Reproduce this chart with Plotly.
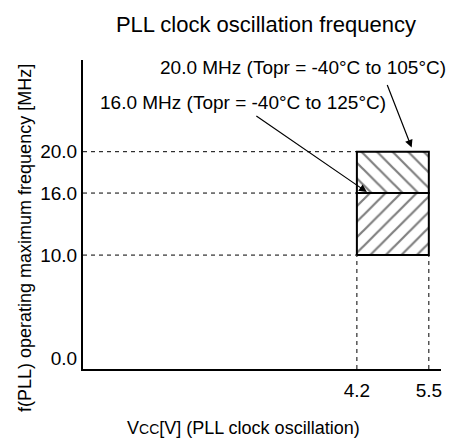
import plotly.graph_objects as go

# chart text
title_text = "PLL clock oscillation frequency"
x_title = "V<span style='font-size:14px'>CC</span>[V] (PLL clock oscillation)"
y_title = "f(PLL) operating maximum frequency [MHz]"
note_labels = ["20.0 MHz (Topr = -40°C to 105°C)", "16.0 MHz (Topr = -40°C to 125°C)"]

# data
y_ticks = [0.0, 10.0, 16.0, 20.0]
y_tick_text = ["0.0", "10.0", "16.0", "20.0"]
x_ticks = [4.2, 5.5]
x_tick_text = ["4.2", "5.5"]
vcc_lo, vcc_hi = 4.2, 5.5
f_low, f_mid, f_high = 10.0, 16.0, 20.0

# schematic axis ranges
x_range = [-0.75, 5.72]
y_range = [-1.02, 28.87]

FONT = "Liberation Sans, Arial, sans-serif"
dash_style = dict(color="black", width=1, dash="4px,4px")

fig = go.Figure()

# dashed guide lines from the y axis to the region
for f in [f_high, f_mid, f_low]:
    fig.add_trace(go.Scatter(x=[x_range[0], vcc_lo], y=[f, f], mode="lines",
                             line=dash_style, hoverinfo="skip", showlegend=False))
# dashed guide lines from the region down to the x axis
for v in [vcc_lo, vcc_hi]:
    fig.add_trace(go.Scatter(x=[v, v], y=[y_range[0], f_low], mode="lines",
                             line=dash_style, hoverinfo="skip", showlegend=False))

# upper hatched block (16 -> 20 MHz)
fig.add_trace(go.Scatter(
    x=[vcc_lo, vcc_hi, vcc_hi, vcc_lo, vcc_lo],
    y=[f_mid, f_mid, f_high, f_high, f_mid],
    mode="lines", fill="toself", fillcolor="white",
    fillpattern=dict(shape="\\", size=11, solidity=0.2, fgcolor="black", bgcolor="white"),
    line=dict(color="black", width=2), showlegend=False, hoverinfo="skip"))

# lower hatched block (10 -> 16 MHz)
fig.add_trace(go.Scatter(
    x=[vcc_lo, vcc_hi, vcc_hi, vcc_lo, vcc_lo],
    y=[f_low, f_low, f_mid, f_mid, f_low],
    mode="lines", fill="toself", fillcolor="white",
    fillpattern=dict(shape="/", size=11, solidity=0.2, fgcolor="black", bgcolor="white"),
    line=dict(color="black", width=2), showlegend=False, hoverinfo="skip"))

# arrows
fig.add_annotation(x=5.19, y=20.4, xref="x", yref="y", text="", showarrow=True,
                   ax=-25, ay=-64, arrowhead=2, arrowsize=1.3, arrowwidth=1.2,
                   arrowcolor="black", standoff=0)
fig.add_annotation(x=4.38, y=16.1, xref="x", yref="y", text="", showarrow=True,
                   ax=-112, ay=-77, arrowhead=2, arrowsize=1.3, arrowwidth=1.2,
                   arrowcolor="black", standoff=0)

# labels
fig.add_annotation(x=1.02, y=0.977, xref="paper", yref="paper", text=note_labels[0],
                   showarrow=False, xanchor="right", yanchor="middle",
                   font=dict(size=19, color="black", family=FONT))
fig.add_annotation(x=0.042, y=0.861, xref="paper", yref="paper", text=note_labels[1],
                   showarrow=False, xanchor="left", yanchor="middle",
                   font=dict(size=19, color="black", family=FONT))
fig.add_annotation(x=-0.162, y=0.424, xref="paper", yref="paper", text=y_title,
                   showarrow=False, textangle=-90, xanchor="center", yanchor="middle",
                   font=dict(size=18, color="black", family=FONT))
fig.add_annotation(x=0.447, y=-0.191, xref="paper", yref="paper", text=x_title,
                   showarrow=False, xanchor="center", yanchor="middle",
                   font=dict(size=18, color="black", family=FONT))

fig.update_layout(
    width=447, height=431,
    margin=dict(l=75, r=14, t=52, b=70),
    paper_bgcolor="white", plot_bgcolor="white",
    font=dict(family=FONT, color="black", size=19),
    title=dict(text=title_text, x=0.577, y=0.963, xanchor="center", yanchor="middle",
               font=dict(size=22, color="black", family=FONT)),
    xaxis=dict(range=x_range, showgrid=False, zeroline=False, showline=True,
               linecolor="black", linewidth=2, tickvals=x_ticks, ticktext=x_tick_text,
               ticks="", ticklabelstandoff=3, tickfont=dict(size=19)),
    yaxis=dict(range=y_range, showgrid=False, zeroline=False, showline=True,
               linecolor="black", linewidth=2, tickvals=y_ticks, ticktext=y_tick_text,
               ticks="", ticklabelstandoff=0, tickfont=dict(size=19)),
)

fig.write_html("out.html")
